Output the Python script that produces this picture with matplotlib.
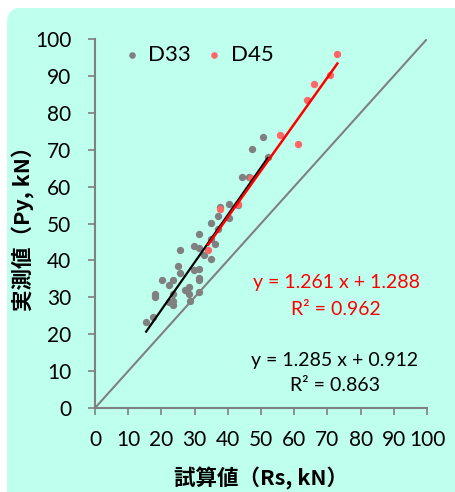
import matplotlib
matplotlib.use("Agg")
import matplotlib.pyplot as plt
from matplotlib.patches import FancyBboxPatch
import numpy as np

plt.rcParams['font.family'] = ['Lato', 'Noto Sans CJK JP', 'DejaVu Sans']

# D33 data (試算値 Rs, 実測値 Py)
d33_x = [15.4, 17.4, 18.1, 18.2, 20.3, 22.3, 23.6, 22.3, 23.4, 23.6, 23.6, 25.0, 25.7, 25.7,
         27.1, 28.4, 28.4, 28.6, 29.9, 29.9, 31.4, 31.4, 31.4, 31.4, 31.4, 31.4, 32.8, 34.8,
         34.8, 34.8, 36.2, 37.0, 37.5, 37.1, 40.3, 40.3, 44.4, 46.4, 47.3, 50.7, 52.0, 43.0]
d33_y = [23.3, 24.6, 30.8, 30.2, 34.6, 33.2, 34.6, 28.7, 27.8, 29.1, 30.8, 38.4, 42.7, 36.6,
         32.0, 32.8, 31.0, 29.1, 43.9, 37.3, 47.1, 43.3, 37.7, 35.2, 34.6, 31.4, 41.5, 50.2,
         45.9, 40.3, 44.5, 52.0, 54.6, 48.6, 55.2, 51.6, 62.7, 62.6, 70.2, 73.5, 67.9, 55.0]
# D45 data
d45_x = [34.1, 37.5, 43.0, 47.0, 55.7, 61.1, 63.9, 66.0, 70.9, 73.0]
d45_y = [42.7, 54.0, 55.2, 62.4, 73.9, 71.5, 83.4, 87.8, 90.2, 95.9]

# Regression results shown on chart
d33_fit = (1.285, 0.912, 0.863)
d45_fit = (1.261, 1.288, 0.962)

ticks = list(range(0, 101, 10))

fig = plt.figure(figsize=(4.56, 4.92), dpi=100)
fig.patch.set_facecolor('white')
bg = FancyBboxPatch((7/456, -0.05), 1.2, 1.05 - 8/492,
                    boxstyle="round,pad=0,rounding_size=0.03",
                    transform=fig.transFigure, facecolor='#BFFFEE', edgecolor='none', zorder=0)
fig.patches.append(bg)

ax = fig.add_axes([95/456, 1 - 408/492, 332/456, 369/492])
ax.set_zorder(5)
ax.set_facecolor('none')

gray = '#808080'
red_pt = '#FF6666'

ax.plot([0, 100], [0, 100], color=gray, lw=1.5, zorder=2)
ax.scatter(d33_x, d33_y, s=28, color=gray, zorder=3, label='D33', linewidths=0)
ax.scatter(d45_x, d45_y, s=28, color=red_pt, zorder=4, label='D45', linewidths=0)

xs = np.array([min(d33_x), max(d33_x)])
ax.plot(xs, d33_fit[0] * xs + d33_fit[1], color='black', lw=1.6, zorder=5)
xs2 = np.array([min(d45_x), max(d45_x)])
ax.plot(xs2, d45_fit[0] * xs2 + d45_fit[1], color='red', lw=1.8, zorder=6)

ax.text(72.6, 33.9, f'y = {d45_fit[0]:.3f} x + {d45_fit[1]:.3f}', color='red', fontsize=14,
        ha='center', va='center')
ax.text(72.6, 26.8, f'R² = {d45_fit[2]:.3f}', color='red', fontsize=14, ha='center', va='center')
ax.text(72.3, 13.0, f'y = {d33_fit[0]:.3f} x + {d33_fit[1]:.3f}', color='black', fontsize=14,
        ha='center', va='center')
ax.text(72.3, 6.0, f'R² = {d33_fit[2]:.3f}', color='black', fontsize=14, ha='center', va='center')

ax.set_xlim(0, 100)
ax.set_ylim(0, 100)
ax.set_xticks(ticks)
ax.set_yticks(ticks)
ax.tick_params(axis='both', direction='out', length=5, width=1.2, color=gray,
               labelsize=15, labelcolor='black')
ax.tick_params(axis='y', pad=12)
ax.tick_params(axis='x', pad=11)
for s in ['top', 'right']:
    ax.spines[s].set_visible(False)
for s in ['left', 'bottom']:
    ax.spines[s].set_color(gray)
    ax.spines[s].set_linewidth(1.5)

ax.set_xlabel('試算値（Rs, kN）', fontsize=15.5, fontweight='bold', labelpad=12,
              family=['Noto Sans CJK JP', 'DejaVu Sans'])
ax.set_ylabel('実測値（Py, kN）', fontsize=15.5, fontweight='bold', labelpad=0,
              family=['Noto Sans CJK JP', 'DejaVu Sans'])

leg = ax.legend(loc='upper left', bbox_to_anchor=(0.08, 0.985), ncol=2, frameon=False,
                fontsize=16, handletextpad=0.3, columnspacing=0.6, handlelength=0.9,
                markerscale=0.9, borderaxespad=0, borderpad=0)

fig.savefig('out.png', dpi=100, facecolor=fig.get_facecolor())
